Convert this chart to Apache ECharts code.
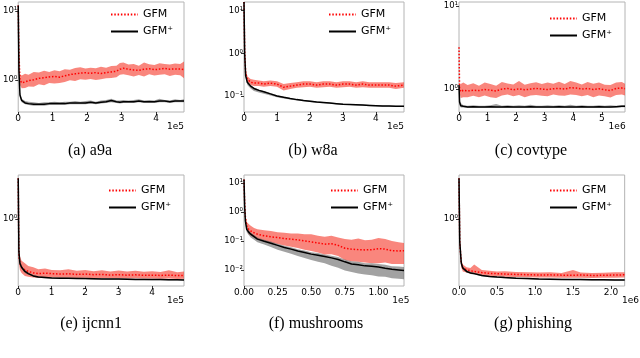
<!DOCTYPE html>
<html>
<head>
<meta charset="utf-8">
<script src="https://cdn.jsdelivr.net/npm/echarts@6/dist/echarts.min.js"></script>
<style>
    html, body { margin: 0; padding: 0; background: #fff; }
    #chart { width: 640px; height: 358px; }
</style>
</head>
<body>
<div id="chart"></div>
<script>
// (a) a9a, x in units of 1e5
const aX = [0, 0.02, 0.05, 0.1, 0.2, 0.3, 0.45, 0.6, 0.75, 0.9, 1.05, 1.2, 1.35, 1.5, 1.65, 1.8, 1.95, 2.1, 2.25, 2.4, 2.55, 2.7, 2.85, 2.95, 3.05, 3.2, 3.35, 3.5, 3.65, 3.8, 3.95, 4.1, 4.25, 4.4, 4.55, 4.7, 4.81];
const aRed = [12, 2.5, 1.0, 0.9, 0.93, 0.97, 1.0, 1.05, 1.07, 1.1, 1.12, 1.09, 1.14, 1.19, 1.22, 1.25, 1.27, 1.24, 1.27, 1.23, 1.27, 1.3, 1.33, 1.42, 1.47, 1.42, 1.39, 1.37, 1.42, 1.45, 1.4, 1.43, 1.46, 1.42, 1.44, 1.43, 1.40];
const aRedHi = [12, 2.9, 1.2, 1.15, 1.22, 1.18, 1.3, 1.27, 1.35, 1.3, 1.38, 1.33, 1.42, 1.4, 1.48, 1.52, 1.46, 1.5, 1.47, 1.55, 1.5, 1.58, 1.6, 1.75, 1.78, 1.66, 1.7, 1.6, 1.78, 1.68, 1.64, 1.74, 1.7, 1.66, 1.73, 1.69, 1.85];
const aRedLo = [12, 2.1, 0.84, 0.75, 0.76, 0.8, 0.79, 0.86, 0.83, 0.9, 0.88, 0.9, 0.93, 0.98, 0.96, 1.02, 1.0, 1.03, 0.99, 1.02, 1.05, 1.06, 1.09, 1.18, 1.2, 1.16, 1.12, 1.17, 1.12, 1.2, 1.15, 1.18, 1.2, 1.13, 1.18, 1.16, 1.05];
const aBlk = [12, 1.4, 0.6, 0.5, 0.46, 0.45, 0.44, 0.44, 0.44, 0.45, 0.45, 0.45, 0.45, 0.46, 0.46, 0.46, 0.46, 0.47, 0.46, 0.47, 0.48, 0.5, 0.48, 0.47, 0.48, 0.48, 0.48, 0.49, 0.48, 0.48, 0.48, 0.49, 0.49, 0.48, 0.49, 0.49, 0.49];
const aBlkHi = [12, 1.6, 0.66, 0.53, 0.49, 0.48, 0.47, 0.46, 0.47, 0.47, 0.48, 0.47, 0.48, 0.48, 0.49, 0.48, 0.49, 0.5, 0.48, 0.5, 0.51, 0.53, 0.5, 0.5, 0.51, 0.5, 0.51, 0.52, 0.5, 0.51, 0.5, 0.53, 0.51, 0.5, 0.52, 0.51, 0.52];
const aBlkLo = [12, 1.25, 0.55, 0.47, 0.44, 0.43, 0.42, 0.42, 0.42, 0.43, 0.43, 0.43, 0.43, 0.44, 0.44, 0.44, 0.44, 0.45, 0.44, 0.45, 0.46, 0.47, 0.46, 0.45, 0.46, 0.46, 0.46, 0.47, 0.46, 0.46, 0.46, 0.47, 0.47, 0.46, 0.47, 0.47, 0.47];
const aXTicks = [0, 1, 2, 3, 4];
const aYTicks = [1, 10];

// (b) w8a, x in units of 1e5
const bX = [0, 0.02, 0.05, 0.1, 0.2, 0.3, 0.45, 0.6, 0.8, 1.0, 1.2, 1.4, 1.6, 1.8, 2.0, 2.2, 2.4, 2.6, 2.8, 3.0, 3.2, 3.4, 3.6, 3.8, 4.0, 4.2, 4.4, 4.6, 4.85];
const bRed = [16, 1.2, 0.35, 0.25, 0.21, 0.2, 0.2, 0.19, 0.2, 0.19, 0.16, 0.17, 0.18, 0.19, 0.19, 0.18, 0.19, 0.19, 0.18, 0.19, 0.19, 0.18, 0.19, 0.18, 0.18, 0.18, 0.18, 0.17, 0.18];
const bRedHi = [16, 1.4, 0.42, 0.29, 0.25, 0.24, 0.23, 0.22, 0.23, 0.22, 0.19, 0.2, 0.21, 0.22, 0.22, 0.21, 0.22, 0.22, 0.21, 0.22, 0.22, 0.21, 0.22, 0.21, 0.21, 0.21, 0.21, 0.2, 0.21];
const bRedLo = [16, 1.0, 0.29, 0.21, 0.18, 0.17, 0.17, 0.165, 0.17, 0.165, 0.135, 0.145, 0.155, 0.16, 0.165, 0.155, 0.16, 0.165, 0.155, 0.16, 0.165, 0.155, 0.16, 0.155, 0.155, 0.155, 0.155, 0.145, 0.155];
const bBlk = [16, 1.0, 0.3, 0.21, 0.17, 0.15, 0.135, 0.125, 0.112, 0.1, 0.093, 0.087, 0.082, 0.078, 0.075, 0.072, 0.07, 0.068, 0.066, 0.064, 0.063, 0.062, 0.061, 0.06, 0.059, 0.058, 0.058, 0.057, 0.057];
const bBlkHi = [16, 1.1, 0.32, 0.22, 0.18, 0.158, 0.142, 0.131, 0.117, 0.104, 0.097, 0.09, 0.085, 0.081, 0.078, 0.075, 0.072, 0.07, 0.068, 0.066, 0.065, 0.064, 0.063, 0.062, 0.061, 0.06, 0.06, 0.059, 0.059];
const bBlkLo = [16, 0.9, 0.27, 0.18, 0.15, 0.13, 0.12, 0.112, 0.102, 0.093, 0.087, 0.082, 0.078, 0.075, 0.072, 0.069, 0.067, 0.066, 0.064, 0.062, 0.061, 0.06, 0.059, 0.058, 0.057, 0.056, 0.056, 0.055, 0.055];
const bXTicks = [0, 1, 2, 3, 4];
const bYTicks = [0.1, 1, 10];

// (c) covtype, x in units of 1e6
const cX = [0, 0.02, 0.06, 0.15, 0.3, 0.5, 0.7, 0.9, 1.1, 1.3, 1.5, 1.7, 1.9, 2.1, 2.3, 2.5, 2.7, 2.9, 3.1, 3.3, 3.5, 3.7, 3.9, 4.1, 4.3, 4.5, 4.7, 4.9, 5.1, 5.3, 5.5, 5.7, 5.81];
const cRed = [3.2, 1.0, 0.93, 0.97, 0.95, 0.97, 0.96, 0.99, 0.97, 0.95, 1.0, 1.02, 0.98, 1.01, 0.98, 1.0, 1.02, 1.0, 0.99, 1.01, 1.02, 1.0, 1.04, 1.03, 1.0, 1.02, 0.99, 1.01, 0.98, 0.96, 1.02, 1.03, 1.01];
const cRedHi = [3.2, 1.1, 1.15, 1.2, 1.12, 1.18, 1.1, 1.2, 1.15, 1.1, 1.22, 1.17, 1.14, 1.25, 1.13, 1.18, 1.21, 1.15, 1.2, 1.16, 1.23, 1.15, 1.25, 1.2, 1.14, 1.22, 1.16, 1.2, 1.13, 1.12, 1.2, 1.22, 1.16];
const cRedLo = [3.2, 0.9, 0.78, 0.8, 0.8, 0.83, 0.8, 0.84, 0.8, 0.78, 0.84, 0.86, 0.82, 0.85, 0.8, 0.84, 0.85, 0.83, 0.82, 0.86, 0.84, 0.83, 0.86, 0.85, 0.82, 0.85, 0.8, 0.84, 0.82, 0.79, 0.85, 0.86, 0.84];
const cBlk = [1.12, 0.7, 0.63, 0.62, 0.61, 0.615, 0.61, 0.61, 0.615, 0.61, 0.61, 0.615, 0.61, 0.61, 0.61, 0.615, 0.61, 0.61, 0.61, 0.61, 0.615, 0.61, 0.61, 0.61, 0.615, 0.61, 0.61, 0.615, 0.61, 0.61, 0.615, 0.62, 0.62];
const cBlkHi = [1.12, 0.75, 0.68, 0.64, 0.63, 0.64, 0.63, 0.63, 0.64, 0.66, 0.63, 0.64, 0.63, 0.64, 0.63, 0.65, 0.63, 0.63, 0.64, 0.63, 0.64, 0.63, 0.65, 0.63, 0.64, 0.63, 0.63, 0.64, 0.63, 0.64, 0.63, 0.64, 0.64];
const cBlkLo = [1.12, 0.66, 0.6, 0.6, 0.595, 0.6, 0.595, 0.595, 0.6, 0.595, 0.595, 0.6, 0.595, 0.595, 0.595, 0.6, 0.595, 0.595, 0.595, 0.595, 0.6, 0.595, 0.595, 0.595, 0.6, 0.595, 0.595, 0.6, 0.595, 0.595, 0.6, 0.605, 0.605];
const cXTicks = [0, 1, 2, 3, 4, 5];
const cYTicks = [1, 10];

// (e) ijcnn1, x in units of 1e5
const eX = [0, 0.02, 0.05, 0.1, 0.2, 0.3, 0.45, 0.6, 0.8, 1.0, 1.25, 1.5, 1.75, 2.0, 2.25, 2.5, 2.75, 3.0, 3.25, 3.5, 3.75, 4.0, 4.25, 4.5, 4.75, 4.95];
const eRed = [1.9, 0.56, 0.5, 0.47, 0.45, 0.44, 0.43, 0.425, 0.428, 0.425, 0.422, 0.424, 0.42, 0.422, 0.418, 0.42, 0.416, 0.418, 0.415, 0.417, 0.414, 0.415, 0.413, 0.415, 0.412, 0.413];
const eRedHi = [1.9, 0.62, 0.56, 0.52, 0.5, 0.48, 0.47, 0.455, 0.46, 0.45, 0.448, 0.455, 0.445, 0.45, 0.442, 0.448, 0.44, 0.446, 0.44, 0.445, 0.438, 0.442, 0.436, 0.448, 0.435, 0.44];
const eRedLo = [1.9, 0.5, 0.45, 0.43, 0.41, 0.405, 0.4, 0.398, 0.4, 0.4, 0.398, 0.399, 0.397, 0.398, 0.396, 0.397, 0.395, 0.396, 0.394, 0.395, 0.393, 0.394, 0.392, 0.394, 0.391, 0.392];
const eBlk = [1.9, 0.6, 0.5, 0.47, 0.44, 0.425, 0.41, 0.403, 0.4, 0.397, 0.396, 0.395, 0.394, 0.393, 0.392, 0.391, 0.39, 0.39, 0.389, 0.388, 0.388, 0.387, 0.387, 0.386, 0.386, 0.385];
const eBlkHi = [1.9, 0.63, 0.52, 0.48, 0.45, 0.432, 0.416, 0.408, 0.404, 0.401, 0.4, 0.399, 0.398, 0.397, 0.396, 0.395, 0.394, 0.394, 0.393, 0.392, 0.392, 0.391, 0.391, 0.39, 0.39, 0.389];
const eBlkLo = [1.9, 0.57, 0.48, 0.46, 0.43, 0.418, 0.404, 0.398, 0.396, 0.393, 0.392, 0.391, 0.39, 0.389, 0.388, 0.387, 0.386, 0.386, 0.385, 0.384, 0.384, 0.383, 0.383, 0.382, 0.382, 0.381];
const eXTicks = [0, 1, 2, 3, 4];
const eYTicks = [1];

// (f) mushrooms, x in units of 1e5
const fX = [0, 0.005, 0.01, 0.02, 0.035, 0.05, 0.075, 0.1, 0.15, 0.2, 0.25, 0.3, 0.35, 0.4, 0.45, 0.5, 0.55, 0.6, 0.65, 0.7, 0.75, 0.8, 0.85, 0.9, 0.95, 1.0, 1.05, 1.1, 1.15, 1.19];
const fRed = [13, 2.0, 0.7, 0.33, 0.25, 0.22, 0.19, 0.17, 0.15, 0.138, 0.13, 0.12, 0.115, 0.108, 0.1, 0.093, 0.085, 0.077, 0.08, 0.07, 0.056, 0.052, 0.05, 0.049, 0.05, 0.054, 0.052, 0.046, 0.045, 0.046];
const fRedHi = [13, 2.4, 0.9, 0.45, 0.38, 0.33, 0.28, 0.25, 0.23, 0.22, 0.2, 0.19, 0.18, 0.18, 0.17, 0.17, 0.15, 0.14, 0.15, 0.13, 0.115, 0.11, 0.12, 0.105, 0.11, 0.125, 0.115, 0.1, 0.09, 0.085];
const fRedLo = [13, 1.6, 0.5, 0.24, 0.17, 0.15, 0.13, 0.115, 0.1, 0.088, 0.078, 0.07, 0.063, 0.057, 0.05, 0.045, 0.04, 0.034, 0.035, 0.03, 0.022, 0.02, 0.019, 0.018, 0.017, 0.017, 0.018, 0.016, 0.016, 0.016];
const fBlk = [13, 1.5, 0.5, 0.25, 0.2, 0.17, 0.14, 0.115, 0.097, 0.083, 0.07, 0.059, 0.052, 0.045, 0.04, 0.035, 0.032, 0.029, 0.026, 0.023, 0.019, 0.016, 0.015, 0.0138, 0.0135, 0.0127, 0.0115, 0.0105, 0.01, 0.0095];
const fBlkHi = [13, 1.8, 0.6, 0.3, 0.23, 0.19, 0.16, 0.13, 0.11, 0.095, 0.08, 0.068, 0.06, 0.052, 0.047, 0.041, 0.038, 0.034, 0.031, 0.028, 0.023, 0.02, 0.019, 0.017, 0.017, 0.016, 0.015, 0.0135, 0.013, 0.0125];
const fBlkLo = [13, 1.2, 0.4, 0.2, 0.16, 0.13, 0.11, 0.09, 0.075, 0.062, 0.05, 0.042, 0.036, 0.03, 0.026, 0.022, 0.019, 0.017, 0.014, 0.012, 0.0095, 0.0085, 0.0075, 0.007, 0.0065, 0.006, 0.0058, 0.0052, 0.005, 0.0048];
const fXTicks = [0, 0.25, 0.5, 0.75, 1.0];
const fYTicks = [0.01, 0.1, 1, 10];

// (g) phishing, x in units of 1e6
const gX = [0, 0.01, 0.03, 0.05, 0.1, 0.15, 0.2, 0.3, 0.4, 0.5, 0.6, 0.75, 0.9, 1.05, 1.2, 1.35, 1.5, 1.6, 1.75, 1.9, 2.05, 2.18];
const gRed = [1.9, 0.7, 0.5, 0.465, 0.452, 0.445, 0.44, 0.432, 0.427, 0.425, 0.422, 0.42, 0.418, 0.416, 0.417, 0.415, 0.414, 0.416, 0.413, 0.414, 0.416, 0.417];
const gRedHi = [1.9, 0.75, 0.53, 0.49, 0.47, 0.465, 0.49, 0.45, 0.445, 0.44, 0.442, 0.436, 0.434, 0.432, 0.435, 0.43, 0.45, 0.432, 0.43, 0.431, 0.434, 0.435];
const gRedLo = [1.9, 0.65, 0.47, 0.44, 0.432, 0.426, 0.422, 0.415, 0.41, 0.408, 0.405, 0.403, 0.401, 0.4, 0.4, 0.399, 0.398, 0.399, 0.397, 0.398, 0.399, 0.4];
const gBlk = [1.9, 0.7, 0.5, 0.464, 0.44, 0.43, 0.425, 0.413, 0.407, 0.403, 0.4, 0.396, 0.393, 0.39, 0.389, 0.388, 0.387, 0.387, 0.386, 0.386, 0.385, 0.385];
const gBlkHi = [1.9, 0.75, 0.52, 0.475, 0.448, 0.437, 0.431, 0.418, 0.411, 0.407, 0.404, 0.4, 0.397, 0.394, 0.393, 0.392, 0.391, 0.391, 0.39, 0.39, 0.389, 0.389];
const gBlkLo = [1.9, 0.65, 0.48, 0.453, 0.432, 0.423, 0.419, 0.408, 0.403, 0.399, 0.396, 0.392, 0.389, 0.386, 0.385, 0.384, 0.383, 0.383, 0.382, 0.382, 0.381, 0.381];
const gXTicks = [0, 0.5, 1.0, 1.5, 2.0];
const gYTicks = [1];

const panels = [
    {x: aX, red: aRed, redLo: aRedLo, redHi: aRedHi, blk: aBlk, blkLo: aBlkLo, blkHi: aBlkHi, xTicks: aXTicks, yTicks: aYTicks, xMax: 4.81, yMin: 0.34, yMax: 13.5, digits: 0, offset: '1e5', caption: '(a) a9a'},
    {x: bX, red: bRed, redLo: bRedLo, redHi: bRedHi, blk: bBlk, blkLo: bBlkLo, blkHi: bBlkHi, xTicks: bXTicks, yTicks: bYTicks, xMax: 4.85, yMin: 0.042, yMax: 16, digits: 0, offset: '1e5', caption: '(b) w8a'},
    {x: cX, red: cRed, redLo: cRedLo, redHi: cRedHi, blk: cBlk, blkLo: cBlkLo, blkHi: cBlkHi, xTicks: cXTicks, yTicks: cYTicks, xMax: 5.81, yMin: 0.53, yMax: 11.2, digits: 0, offset: '1e6', caption: '(c) covtype'},
    {x: eX, red: eRed, redLo: eRedLo, redHi: eRedHi, blk: eBlk, blkLo: eBlkLo, blkHi: eBlkHi, xTicks: eXTicks, yTicks: eYTicks, xMax: 4.95, yMin: 0.35, yMax: 2, digits: 0, offset: '1e5', caption: '(e) ijcnn1'},
    {x: fX, red: fRed, redLo: fRedLo, redHi: fRedHi, blk: fBlk, blkLo: fBlkLo, blkHi: fBlkHi, xTicks: fXTicks, yTicks: fYTicks, xMax: 1.19, yMin: 0.0028, yMax: 18.5, digits: 2, offset: '1e5', caption: '(f) mushrooms'},
    {x: gX, red: gRed, redLo: gRedLo, redHi: gRedHi, blk: gBlk, blkLo: gBlkLo, blkHi: gBlkHi, xTicks: gXTicks, yTicks: gYTicks, xMax: 2.18, yMin: 0.35, yMax: 2, digits: 1, offset: '1e6', caption: '(g) phishing'}
];

// 每个子图的位置
const layout = [
    {left: 18, top: 2, width: 166, height: 110, legX: 110, legY: 8, capX: 90, capY: 151},
    {left: 244, top: 2, width: 160, height: 110, legX: 328, legY: 8, capX: 313, capY: 151},
    {left: 459, top: 2, width: 166, height: 110, legX: 549, legY: 12, capX: 531, capY: 151},
    {left: 18, top: 175, width: 166, height: 111, legX: 108, legY: 184, capX: 91, capY: 324},
    {left: 244, top: 175, width: 160, height: 111, legX: 330, legY: 184, capX: 316, capY: 324},
    {left: 459, top: 175, width: 166, height: 111, legX: 549, legY: 184, capX: 533, capY: 324}
];

const SUP = {'-': '\u207b', '0': '\u2070', '1': '\u00b9', '2': '\u00b2', '3': '\u00b3'};
const FONT = 'DejaVu Sans';

function pow10Label(v) {
    const e = String(Math.round(Math.log10(v)));
    return '10' + e.split('').map(c => SUP[c]).join('');
}

function bandSeries(i, xs, lo, hi, fill) {
    return {
        type: 'custom',
        xAxisIndex: i,
        yAxisIndex: i,
        clip: true,
        silent: true,
        z: 1,
        data: xs.map((x, k) => [x, lo[k], hi[k]]),
        encode: {x: 0, y: [1, 2]},
        renderItem: (params, api) => {
            if (params.dataIndex !== 0) {
                return null;
            }
            const pts = [];
            xs.forEach((x, k) => pts.push(api.coord([x, hi[k]])));
            for (let k = xs.length - 1; k >= 0; k--) {
                pts.push(api.coord([xs[k], lo[k]]));
            }
            return {type: 'polygon', shape: {points: pts}, style: {fill: fill}};
        }
    };
}

const grids = [];
const xAxes = [];
const yAxes = [];
const series = [];
const legends = [];
const captions = [];

panels.forEach((p, i) => {
    const l = layout[i];
    grids.push({
        left: l.left, top: l.top, width: l.width, height: l.height,
        show: true, borderColor: '#b4b4b4', borderWidth: 1, backgroundColor: 'transparent'
    });
    xAxes.push({
        type: 'value', gridIndex: i, min: 0, max: p.xMax,
        name: p.offset, nameLocation: 'end', nameGap: 0,
        nameTextStyle: {fontFamily: FONT, fontSize: 9, color: '#000', align: 'right', verticalAlign: 'top', padding: [10, 0, 0, 0]},
        axisLine: {show: false},
        splitLine: {show: false},
        axisTick: {show: true, length: 3, customValues: p.xTicks, lineStyle: {color: '#000', width: 0.8}},
        axisLabel: {
            customValues: p.xTicks, margin: 2, fontFamily: FONT, fontSize: 9, color: '#000',
            formatter: v => Number(v).toFixed(p.digits)
        }
    });
    yAxes.push({
        type: 'log', logBase: 10, gridIndex: i, min: p.yMin, max: p.yMax,
        axisLine: {show: false},
        splitLine: {show: false},
        minorTick: {show: false},
        axisTick: {show: true, length: 3, customValues: p.yTicks, lineStyle: {color: '#000', width: 0.8}},
        axisLabel: {customValues: p.yTicks, margin: 1, fontFamily: FONT, fontSize: 8.5, color: '#000', formatter: pow10Label}
    });
    series.push(bandSeries(i, p.x, p.redLo, p.redHi, 'rgba(245,60,45,0.62)'));
    series.push(bandSeries(i, p.x, p.blkLo, p.blkHi, 'rgba(100,100,100,0.6)'));
    series.push({
        type: 'line', name: 'GFM', xAxisIndex: i, yAxisIndex: i, z: 3,
        data: p.x.map((x, k) => [x, p.red[k]]),
        symbol: 'none', clip: true, silent: true,
        lineStyle: {color: '#ff0000', width: 1.5, type: [1.5, 1.8]},
        itemStyle: {color: '#ff0000'}
    });
    series.push({
        type: 'line', name: 'GFM\u207a', xAxisIndex: i, yAxisIndex: i, z: 4,
        data: p.x.map((x, k) => [x, p.blk[k]]),
        symbol: 'none', clip: true, silent: true,
        lineStyle: {color: '#000', width: 1.5},
        itemStyle: {color: '#000'}
    });
    legends.push({
        left: l.legX, top: l.legY, orient: 'vertical', padding: 0, itemGap: 4,
        itemWidth: 27, itemHeight: 10, selectedMode: false,
        data: ['GFM', 'GFM\u207a'],
        itemStyle: {color: 'transparent', borderWidth: 0, opacity: 0},
        textStyle: {fontFamily: FONT, fontSize: 11, color: '#000', lineHeight: 13}
    });
    captions.push({
        type: 'text', x: l.capX, y: l.capY,
        style: {text: p.caption, fill: '#000', font: '16px "Liberation Serif"', align: 'center', verticalAlign: 'middle'}
    });
});

const chart = echarts.init(document.getElementById('chart'), null, {renderer: 'canvas'});
chart.setOption({
    animation: false,
    backgroundColor: '#fff',
    grid: grids,
    xAxis: xAxes,
    yAxis: yAxes,
    legend: legends,
    series: series,
    graphic: captions
});
</script>
</body>
</html>
